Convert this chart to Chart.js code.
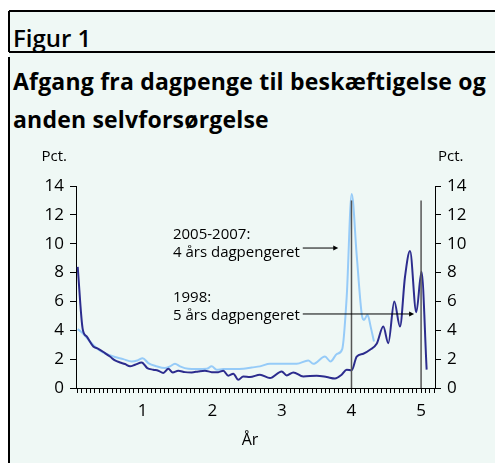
<!DOCTYPE html>
<html>
<head>
<meta charset="utf-8">
<script src="https://cdn.jsdelivr.net/npm/chart.js@4.4.0/dist/chart.umd.min.js"></script>
<style>
  body { margin: 0; background: #fff; }
  #fig { position: relative; width: 495px; height: 463px; overflow: hidden; font-family: "Open Sans", sans-serif; }
  .panel { position: absolute; left: 9px; top: 11px; right: 0; bottom: 0; background: #eff8f5; }
  .rule { position: absolute; background: #000; }
  .head { position: absolute; left: 13px; color: #000; white-space: nowrap; }
  #chart { position: absolute; left: 0; top: 0; }
</style>
</head>
<body>
<div id="fig">
  <div class="panel"></div>
  <div class="rule" style="left:9px;top:10px;width:486px;height:1.5px"></div>
  <div class="rule" style="left:8px;top:11px;width:1.5px;height:41px"></div>
  <div class="rule" style="left:9px;top:51px;width:486px;height:1.5px"></div>
  <div class="rule" style="left:8px;top:57px;width:1.5px;height:406px"></div>
  <div class="head" style="top:21px;font-size:24px;font-weight:600">Figur 1</div>
  <div class="head" style="top:62px;font-size:23px;font-weight:700;letter-spacing:0.2px;line-height:38px">Afgang fra dagpenge til beskæftigelse og<br>anden selvforsørgelse</div>
  <canvas id="chart" width="495" height="463"></canvas>
</div>
<script>
// år efter indtræden (x) og afgangsrate i pct. (y)
const darkX = [0.066, 0.138, 0.195, 0.29, 0.362, 0.458, 0.53, 0.602, 0.674, 0.746, 0.818, 0.89, 0.986,
  1.066, 1.152, 1.224, 1.296, 1.368, 1.431, 1.511, 1.608, 1.704, 1.799, 1.895, 1.991,
  2.086, 2.158, 2.23, 2.302, 2.374, 2.445, 2.542, 2.685, 2.829, 2.997,
  3.069, 3.164, 3.307, 3.5, 3.644, 3.763, 3.859, 3.931, 4.003,
  4.075, 4.17, 4.266, 4.362, 4.457, 4.529, 4.615, 4.697, 4.769, 4.841, 4.931, 5.006, 5.08];
const darkY = [8.4, 4.08, 3.57, 2.88, 2.72, 2.42, 2.18, 1.91, 1.77, 1.66, 1.5, 1.61, 1.77,
  1.38, 1.27, 1.2, 1.04, 1.33, 1.08, 1.2, 1.1, 1.08, 1.15, 1.2, 1.1,
  1.1, 1.2, 0.85, 0.99, 0.57, 0.8, 0.76, 0.92, 0.69, 1.15,
  0.87, 1.08, 0.8, 0.85, 0.76, 0.66, 0.92, 1.27, 1.22,
  2.18, 2.37, 2.65, 3.06, 4.26, 3.11, 6.0, 4.26, 7.71, 9.49, 5.25, 8.06, 1.27];

const lightX = [0.066, 0.138, 0.243, 0.339, 0.434, 0.578, 0.721, 0.842, 0.922, 1.0,
  1.08, 1.201, 1.32, 1.392, 1.464, 1.536, 1.655, 1.776, 1.92, 1.991,
  2.063, 2.158, 2.302, 2.445, 2.566, 2.685, 2.829, 3.02,
  3.213, 3.379, 3.451, 3.619, 3.698, 3.792, 3.867, 3.931, 4.003,
  4.075, 4.151, 4.18, 4.23, 4.28, 4.323];
const lightY = [4.08, 3.8, 3.22, 2.76, 2.46, 2.18, 2.0, 1.84, 1.91, 2.07,
  1.73, 1.5, 1.38, 1.5, 1.68, 1.5, 1.33, 1.31, 1.33, 1.5,
  1.27, 1.31, 1.31, 1.33, 1.42, 1.5, 1.68, 1.68,
  1.68, 1.91, 1.68, 2.18, 1.84, 2.36, 2.7, 6.3, 13.45,
  9.2, 5.0, 4.72, 5.07, 4.15, 3.22];

const seriesNames = ['1998', '2005-2007'];
const yearTicks = [1, 2, 3, 4, 5];
const yearLabels = ['1', '2', '3', '4', '5'];
const pctTicks = [0, 2, 4, 6, 8, 10, 12, 14];
const markYears = [4, 5];

const notes = [
  { x: 1.435, y: 10.65, lines: ['2005-2007:', '4 års dagpengeret'], from: 3.3, to: 3.81, ay: 9.7 },
  { x: 1.435, y: 6.24, lines: ['1998:', '5 års dagpengeret'], from: 3.3, to: 4.9, ay: 5.13 }
];

const FONT = '"Open Sans", sans-serif';

function pts(xs, ys) {
  return xs.map((x, i) => ({ x: x, y: ys[i] }));
}

const extras = {
  id: 'extras',
  afterDatasetsDraw(chart) {
    const ctx = chart.ctx;
    const x = chart.scales.x;
    const y = chart.scales.yL;
    const area = chart.chartArea;
    ctx.save();

    // lodrette markeringer ved 4 og 5 år
    ctx.strokeStyle = '#555';
    ctx.lineWidth = 1.5;
    markYears.forEach(v => {
      const px = x.getPixelForValue(v);
      ctx.beginPath();
      ctx.moveTo(px, y.getPixelForValue(0));
      ctx.lineTo(px, y.getPixelForValue(13));
      ctx.stroke();
    });

    // tekster med pile
    ctx.fillStyle = '#000';
    ctx.font = '15px ' + FONT;
    ctx.textBaseline = 'middle';
    ctx.textAlign = 'left';
    notes.forEach(n => {
      const tx = x.getPixelForValue(n.x);
      const ty = y.getPixelForValue(n.y);
      n.lines.forEach((t, i) => ctx.fillText(t, tx, ty + i * 18));
      const ay = y.getPixelForValue(n.ay);
      const x1 = x.getPixelForValue(n.from);
      const x2 = x.getPixelForValue(n.to);
      ctx.strokeStyle = '#000';
      ctx.lineWidth = 1;
      ctx.beginPath();
      ctx.moveTo(x1, ay);
      ctx.lineTo(x2 - 3, ay);
      ctx.stroke();
      ctx.beginPath();
      ctx.moveTo(x2, ay);
      ctx.lineTo(x2 - 5, ay - 2.5);
      ctx.lineTo(x2 - 5, ay + 2.5);
      ctx.closePath();
      ctx.fill();
    });

    // akse-enheder
    ctx.font = '15px ' + FONT;
    ctx.textAlign = 'right';
    ctx.fillText('Pct.', area.left - 9, area.top - 29);
    ctx.textAlign = 'left';
    ctx.fillText('Pct.', area.right + 3, area.top - 29);
    ctx.textAlign = 'center';
    ctx.font = '16px ' + FONT;
    ctx.fillText('År', 250, area.bottom + 52);
    ctx.restore();
  }
};

const yTickCfg = {
  color: '#000',
  font: { size: 17, family: FONT },
  stepSize: 2,
  padding: 6
};

new Chart(document.getElementById('chart'), {
  type: 'line',
  data: {
    datasets: [
      {
        label: seriesNames[0],
        data: pts(darkX, darkY),
        borderColor: '#2c2c8e',
        borderWidth: 2,
        pointRadius: 0,
        cubicInterpolationMode: 'monotone',
        yAxisID: 'yL'
      },
      {
        label: seriesNames[1],
        data: pts(lightX, lightY),
        borderColor: '#96cbf8',
        borderWidth: 2,
        pointRadius: 0,
        cubicInterpolationMode: 'monotone',
        yAxisID: 'yL'
      }
    ]
  },
  options: {
    responsive: false,
    animation: false,
    layout: { padding: { top: 186, left: 0, right: 0, bottom: 0 } },
    plugins: { legend: { display: false }, tooltip: { enabled: false } },
    scales: {
      x: {
        type: 'linear',
        min: 0.0417,
        max: 5.2,
        afterBuildTicks: s => {
          const t = [];
          for (let k = 1; k / 16 <= 5.2; k++) t.push({ value: k / 16 });
          s.ticks = t;
        },
        afterFit: s => { s.height = 75; },
        ticks: {
          autoSkip: false,
          maxRotation: 0,
          padding: 8,
          color: '#000',
          font: { size: 17, family: FONT },
          callback: v => {
            const i = yearTicks.indexOf(v);
            return i >= 0 ? yearLabels[i] : '';
          }
        },
        grid: { drawOnChartArea: false, tickLength: 5, color: '#000', lineWidth: 1 },
        border: { color: '#000', width: 1 }
      },
      yL: {
        position: 'left',
        min: 0,
        max: 14,
        afterBuildTicks: s => { s.ticks = pctTicks.map(v => ({ value: v })); },
        afterFit: s => { s.width = 76; },
        ticks: yTickCfg,
        grid: { drawOnChartArea: false, tickLength: 6, color: '#000' },
        border: { color: '#000', width: 1 }
      },
      yR: {
        position: 'right',
        min: 0,
        max: 14,
        afterBuildTicks: s => { s.ticks = pctTicks.map(v => ({ value: v })); },
        afterFit: s => { s.width = 60; },
        ticks: yTickCfg,
        grid: { drawOnChartArea: false, tickLength: 6, color: '#000' },
        border: { color: '#000', width: 1 }
      }
    }
  },
  plugins: [extras]
});
</script>
</body>
</html>
